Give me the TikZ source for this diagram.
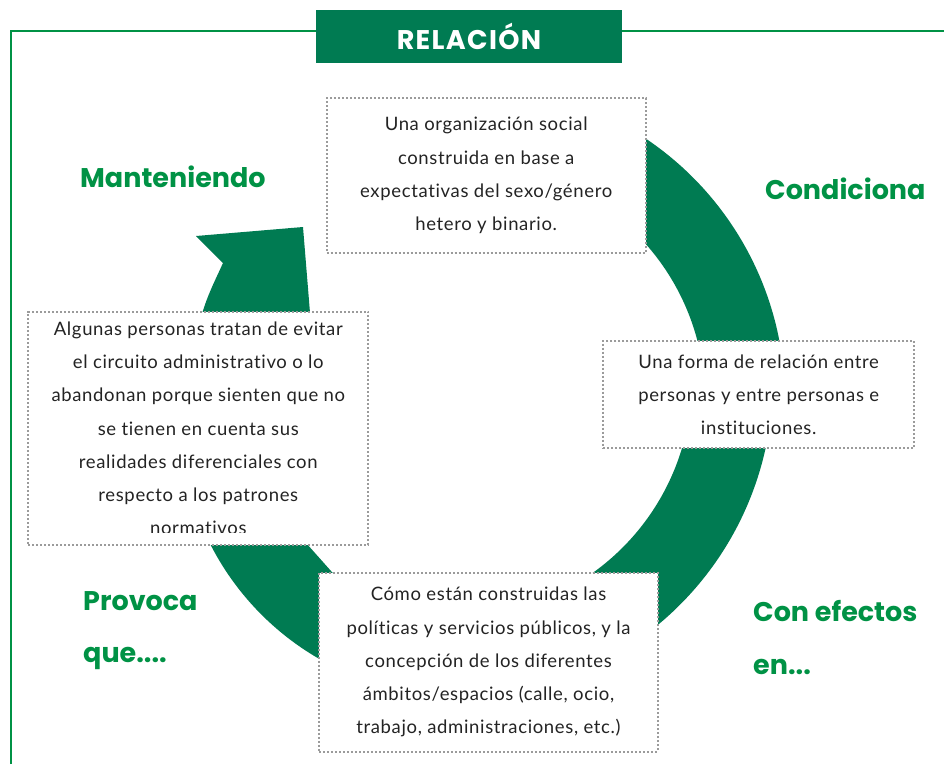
\documentclass[tikz,border=0pt]{standalone}
\usepackage{fontspec}
\setmainfont{Lato}[LetterSpace=3.5, Ligatures=NoCommon]
\newfontfamily\headfont{Poppins}
\newfontfamily\titlefont{Poppins}[LetterSpace=5]
\usetikzlibrary{calc}
\definecolor{ringgreen}{RGB}{0,123,82}
\definecolor{linegreen}{RGB}{0,146,69}
\definecolor{dotgray}{RGB}{155,155,155}
\definecolor{txtgray}{RGB}{35,35,35}
\begin{document}
\begin{tikzpicture}[x=1pt,y=1pt,
  dbox/.style={draw=dotgray, line width=2pt, dash pattern=on 2pt off 2pt, fill=white,
    inner sep=0pt, align=center, text=txtgray, font=\fontsize{18.5}{33.2}\selectfont},
  heading/.style={text=linegreen, font=\headfont\bfseries\fontsize{27}{30}\selectfont,
    inner sep=0pt, anchor=base west},
  ring/.style={fill=ringgreen}]
\useasboundingbox (0,0) rectangle (944,-764);
% frame
\coordinate (fb) at (11,-764);
\coordinate (fc) at (11,-31);
\coordinate (fr) at (944,-31);
\draw[linegreen, line width=2.2pt, line join=miter] (fb) -- (fc) -- (fr);
% ring segments
\coordinate (cA) at (470,-400);
\coordinate (cB) at (455,-380);
\coordinate (cC) at (458,-418);
\fill[ring] ($(cA)+(62:315)$) arc[start angle=62, end angle=0, radius=315]
  -- ($(cA)+(0:235)$) arc[start angle=0, end angle=62, radius=235] -- cycle;
\fill[ring] ($(cB)+(-5:318)$) arc[start angle=-5, end angle=-60, radius=318]
  -- ($(cB)+(-60:237)$) arc[start angle=-60, end angle=-5, radius=237] -- cycle;
\fill[ring] (290,-525) -- ($(cC)+(200:278)$) arc[start angle=200, end angle=250, radius=278]
  -- (360,-603.5) -- cycle;
\fill[ring] (199,-325) .. controls (205,-300) and (213,-285) .. (223,-263)
  -- (196,-236) -- (303,-227) -- (311,-325) -- cycle;
% boxes
\node[dbox, minimum width=319.3pt, minimum height=154.4pt] (b1) at (486.2,-175.5)
  {Una organización social\\construida en base a\\expectativas del sexo/género\\hetero y binario.};
\node[dbox, minimum width=310.7pt, minimum height=107.6pt] (b2) at (758.7,-394.5)
  {Una forma de relación entre\\personas y entre personas e\\instituciones.};
\node[dbox, minimum width=340pt, minimum height=233.3pt] (b3) at (198.3,-428.3)
  {Algunas personas tratan de evitar\\el circuito administrativo o lo\\abandonan porque sienten que no\\se tienen en cuenta sus\\realidades diferenciales con\\respecto a los patrones\\normativos};
\fill[white] (30,-532.5) rectangle (366.5,-543.6);
\node[dbox, minimum width=338.4pt, minimum height=179pt] (b4) at (488.5,-662.2)
  {Cómo están construidas las\\políticas y servicios públicos, y la\\concepción de los diferentes\\ámbitos/espacios (calle, ocio,\\trabajo, administraciones, etc.)};
% headings
\node[heading] (h1) at (80,-187) {Manteniendo};
\node[heading] (h2) at (765,-199) {Condiciona};
\node[heading] (h3) at (83,-610) {Provoca};
\node[heading] (h3b) at (83,-662) {que....};
\node[heading] (h4) at (753,-621) {Con efectos};
\node[heading] (h4b) at (753,-674) {en...};
% title
\node[fill=ringgreen, minimum width=306pt, minimum height=53pt, inner sep=0pt,
  text=white, font=\titlefont\bfseries\fontsize{27}{30}\selectfont] (title) at (469,-36.5) {RELACIÓN};
\end{tikzpicture}
\end{document}
